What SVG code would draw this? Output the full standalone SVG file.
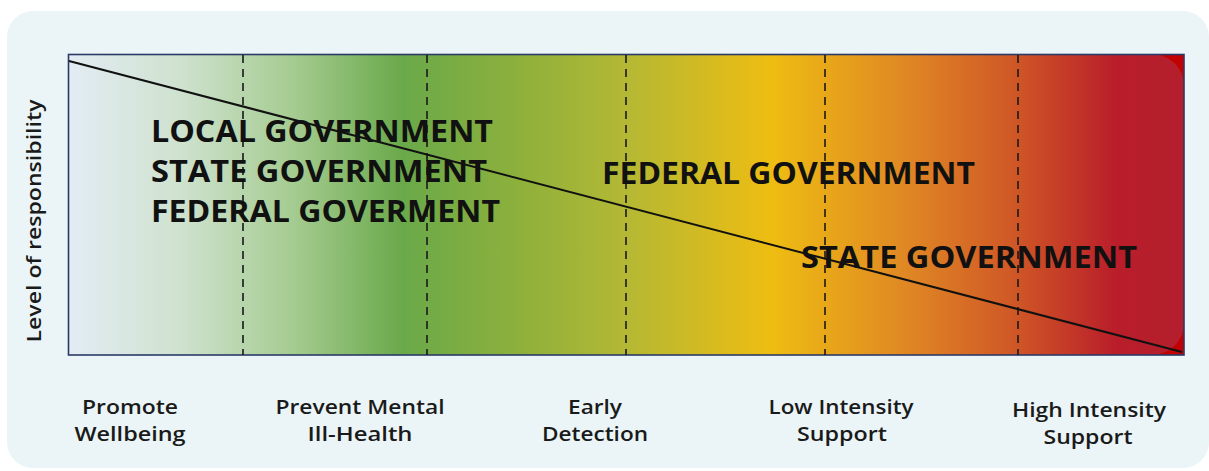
<svg xmlns="http://www.w3.org/2000/svg" width="1209" height="471" viewBox="0 0 1209 471">
  <defs>
    <linearGradient id="band" x1="68" y1="0" x2="1184" y2="0" gradientUnits="userSpaceOnUse">
      <stop offset="0" stop-color="#e3ecf4"/>
      <stop offset="0.10" stop-color="#cfe2cf"/>
      <stop offset="0.20" stop-color="#a6cc92"/>
      <stop offset="0.30" stop-color="#6aa94a"/>
      <stop offset="0.40" stop-color="#8cb03c"/>
      <stop offset="0.50" stop-color="#b4b834"/>
      <stop offset="0.63" stop-color="#eebd12"/>
      <stop offset="0.75" stop-color="#e08824"/>
      <stop offset="0.85" stop-color="#cf5626"/>
      <stop offset="0.94" stop-color="#b91d2a"/>
      <stop offset="1" stop-color="#b41f2d"/>
    </linearGradient>
    <style>
      .div { stroke: #1a1a1a; stroke-width: 1.6; stroke-dasharray: 8 6; fill: none; }
      .gov { font-family: "Open Sans", "Liberation Sans", sans-serif; font-weight: 700; font-size: 30px; fill: #111; }
      .stage { font-family: "Open Sans", "Liberation Sans", sans-serif; font-weight: 600; font-size: 20px; fill: #1a1a1a; text-anchor: middle; }
      .axis { font-family: "Open Sans", "Liberation Sans", sans-serif; font-weight: 600; font-size: 19px; fill: #1a1a1a; text-anchor: middle; }
    </style>
  </defs>

  <!-- card background -->
  <rect x="7" y="11" width="1202" height="457" rx="26" fill="#ebf5f7"/>

  <!-- chart area: red base with gradient band rounded on the right -->
  <g id="chart">
    <rect x="68" y="54" width="1116" height="301" fill="#c20202"/>
    <path d="M68 54 H1152 A32 32 0 0 1 1184 86 V323 A32 32 0 0 1 1152 355 H68 Z" fill="url(#band)"/>
    <rect x="68.5" y="54.5" width="1115.5" height="300.5" fill="none" stroke="#2b3a67" stroke-width="1.6"/>
  </g>

  <!-- stage dividers and responsibility slope -->
  <g id="connectors">
    <line class="div" x1="243" y1="55" x2="243" y2="355"/>
    <line class="div" x1="427" y1="55" x2="427" y2="355"/>
    <line class="div" x1="626" y1="55" x2="626" y2="355"/>
    <line class="div" x1="825" y1="55" x2="825" y2="355"/>
    <line class="div" x1="1018" y1="55" x2="1018" y2="355"/>
    <line x1="69" y1="61" x2="1182" y2="352" stroke="#111" stroke-width="2"/>
  </g>

  <g id="label-shared">
    <text class="gov" x="151" y="142" textLength="342" lengthAdjust="spacingAndGlyphs">LOCAL GOVERNMENT</text>
    <text class="gov" x="151" y="182" textLength="336" lengthAdjust="spacingAndGlyphs">STATE GOVERNMENT</text>
    <text class="gov" x="151" y="222" textLength="349" lengthAdjust="spacingAndGlyphs">FEDERAL GOVERMENT</text>
  </g>
  <g id="label-federal">
    <text class="gov" x="602" y="184" textLength="373" lengthAdjust="spacingAndGlyphs">FEDERAL GOVERNMENT</text>
  </g>
  <g id="label-state">
    <text class="gov" x="801" y="268" textLength="336" lengthAdjust="spacingAndGlyphs">STATE GOVERNMENT</text>
  </g>

  <g id="axis-label">
    <text class="axis" transform="translate(41 221) rotate(-90)" textLength="243" lengthAdjust="spacingAndGlyphs">Level of responsibility</text>
  </g>

  <g id="stage-promote">
    <text class="stage" x="130" y="414" textLength="96" lengthAdjust="spacingAndGlyphs">Promote</text>
    <text class="stage" x="130" y="441" textLength="111" lengthAdjust="spacingAndGlyphs">Wellbeing</text>
  </g>
  <g id="stage-prevent">
    <text class="stage" x="360" y="414" textLength="169" lengthAdjust="spacingAndGlyphs">Prevent Mental</text>
    <text class="stage" x="360" y="441" textLength="105" lengthAdjust="spacingAndGlyphs">Ill-Health</text>
  </g>
  <g id="stage-early">
    <text class="stage" x="595" y="414" textLength="54" lengthAdjust="spacingAndGlyphs">Early</text>
    <text class="stage" x="595" y="441" textLength="106" lengthAdjust="spacingAndGlyphs">Detection</text>
  </g>
  <g id="stage-low">
    <text class="stage" x="841" y="414" textLength="145" lengthAdjust="spacingAndGlyphs">Low Intensity</text>
    <text class="stage" x="842" y="441" textLength="90" lengthAdjust="spacingAndGlyphs">Support</text>
  </g>
  <g id="stage-high">
    <text class="stage" x="1089" y="417" textLength="154" lengthAdjust="spacingAndGlyphs">High Intensity</text>
    <text class="stage" x="1088" y="444" textLength="89" lengthAdjust="spacingAndGlyphs">Support</text>
  </g>
</svg>
